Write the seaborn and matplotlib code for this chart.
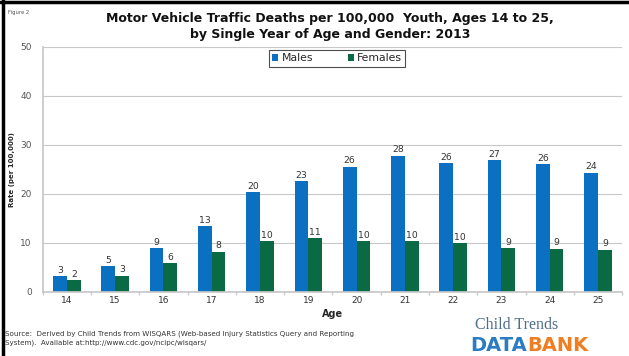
import matplotlib
import numpy as np
import pandas as pd
import seaborn as sns

matplotlib.use("Agg")
import matplotlib.pyplot as plt
from matplotlib.lines import Line2D


AGES = ["14", "15", "16", "17", "18", "19", "20", "21", "22", "23", "24", "25"]
MALES = [3.2, 5.2, 8.9, 13.4, 20.3, 22.6, 25.6, 27.8, 26.3, 26.9, 26.1, 24.3]
FEMALES = [2.4, 3.3, 5.9, 8.2, 10.4, 11.0, 10.3, 10.3, 9.9, 8.9, 8.8, 8.6]
GENDERS = ["Males", "Females"]
COLORS = ["#0B70C1", "#0A6A44"]


def build_frame() -> pd.DataFrame:
    rows = []
    for age, m, f in zip(AGES, MALES, FEMALES):
        rows.append({"age": age, "gender": "Males", "rate": m})
        rows.append({"age": age, "gender": "Females", "rate": f})
    return pd.DataFrame(rows)


def main() -> None:
    sns.set_theme(style="white")
    plt.rcParams["font.family"] = ["Verdana", "DejaVu Sans"]

    df = build_frame()
    fig = plt.figure(figsize=(6.29, 3.56), dpi=100)
    ax = fig.add_axes([0.068, 0.180, 0.921, 0.688])

    sns.barplot(
        data=df, x="age", y="rate", hue="gender", order=AGES, hue_order=GENDERS,
        palette=COLORS, width=0.57, saturation=1, linewidth=0, ax=ax, legend=True,
    )
    for cont in ax.containers:
        ax.bar_label(cont, fmt="%.0f", fontsize=6.7, color="#333333", padding=1)

    ax.set_ylim(0, 50)
    ax.set_yticks(np.arange(0, 51, 10))
    ax.yaxis.grid(True, color="#C8C8C8", linewidth=0.8)
    ax.set_axisbelow(True)
    ax.tick_params(axis="y", labelsize=6.5, labelcolor="#555555", length=0, pad=8)
    ax.tick_params(axis="x", labelsize=6.5, labelcolor="#333333", length=0, pad=3)
    ax.set_xticks(np.arange(-0.5, len(AGES), 1.0), minor=True)
    ax.tick_params(axis="x", which="minor", bottom=True, length=2.5, color="#C8C8C8")
    for side in ["top", "right"]:
        ax.spines[side].set_visible(False)
    ax.spines["left"].set_color("#C8C8C8")
    ax.spines["bottom"].set_color("#C8C8C8")

    ax.set_xlabel("Age", fontsize=7, fontweight="bold", labelpad=3)
    ax.set_ylabel("Rate (per 100,000)", fontsize=5, fontweight="bold", labelpad=4)

    leg = ax.legend(
        loc="upper center", bbox_to_anchor=(0.508, 1.0), ncol=2, fontsize=7.8,
        frameon=True, handlelength=0.55, handleheight=0.55, handletextpad=0.3,
        columnspacing=3.2, borderpad=0.3, borderaxespad=0.3, fancybox=False,
    )
    leg.get_frame().set_edgecolor("#222222")
    leg.get_frame().set_linewidth(0.8)

    fig.text(0.525, 0.965, "Motor Vehicle Traffic Deaths per 100,000  Youth, Ages 14 to 25,",
             ha="center", va="top", fontsize=9, fontweight="bold", color="#111111")
    fig.text(0.525, 0.922, "by Single Year of Age and Gender: 2013",
             ha="center", va="top", fontsize=9, fontweight="bold", color="#111111")
    fig.text(0.012, 0.965, "Figure 2", ha="left", va="center", fontsize=3.8, color="#555555")

    fig.text(0.008, 0.049, "Source:  Derived by Child Trends from WISQARS (Web-based Injury Statistics Query and Reporting\n"
             "System).  Available at:http://www.cdc.gov/ncipc/wisqars/",
             ha="left", va="center", fontsize=5.1, color="#333333", linespacing=1.45)

    fig.text(0.755, 0.088, "Child Trends", ha="left", va="center", fontsize=11.5,
             family=["Liberation Serif", "DejaVu Serif"], color="#4F6E8C")
    data_txt = fig.text(0.748, 0.030, "DATA", ha="left", va="center", fontsize=14,
                        fontweight="bold", color="#2C7CC4")
    fig.canvas.draw()
    bb = data_txt.get_window_extent().transformed(fig.transFigure.inverted())
    fig.text(bb.x1, 0.030, "BANK", ha="left", va="center", fontsize=14,
             fontweight="bold", color="#F07D22")

    fig.add_artist(Line2D([0, 1], [0.993, 0.993], color="black", linewidth=2.5,
                          transform=fig.transFigure))
    fig.add_artist(Line2D([0.005, 0.005], [0, 1], color="black", linewidth=2.5,
                          transform=fig.transFigure))

    fig.savefig("out.png", dpi=100)
    plt.close(fig)


if __name__ == "__main__":
    main()
